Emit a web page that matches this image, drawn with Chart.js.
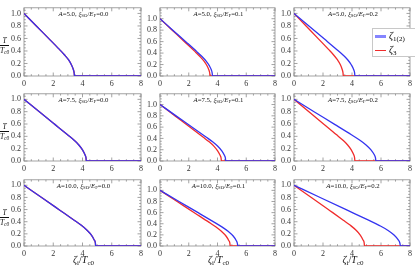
<!DOCTYPE html>
<html>
<head>
<meta charset="utf-8">
<script src="https://cdn.jsdelivr.net/npm/chart.js@4.4.1/dist/chart.umd.min.js"></script>
<style>
  html, body { margin: 0; padding: 0; background: #fff; }
  #stage { position: relative; width: 415px; height: 266px; overflow: hidden; font-family: "Liberation Serif", serif; }
  canvas { position: absolute; }
  .note { position: absolute; font-size: 6.8px; color: #111; white-space: nowrap; transform: translateX(-50%); line-height: 1; }
  .note sub, .lbl sub, .legend sub { font-size: 70%; vertical-align: baseline; position: relative; top: 0.3em; }
  .frac { position: absolute; font-size: 7.5px; font-style: italic; color: #111; text-align: center; line-height: 1; }
  .frac .num { display: block; border-bottom: 0.8px solid #111; padding: 0 1px; }
  .frac .den { display: block; padding-top: 1px; }
  .lbl { position: absolute; font-size: 10px; color: #111; white-space: nowrap; transform: translateX(-50%); line-height: 1; }
  .legend { position: absolute; left: 372px; top: 28px; width: 44px; height: 29px; background: #fff; border: 1px solid #c8c8c8; box-sizing: border-box; font-size: 10px; }
  .legend .row { position: absolute; left: 2px; height: 12px; line-height: 12px; white-space: nowrap; }
  .legend .sw { display: inline-block; width: 11px; vertical-align: middle; margin-right: 3px; }
</style>
</head>
<body>
<div id="stage"></div>
<script>
// ---- data ----
const aValues = ["5.0", "7.5", "10.0"];
const xiValues = ["0.0", "0.1", "0.2"];
const xTicks = [0, 2, 4, 6, 8];
const yTicks = [0, 0.2, 0.4, 0.6, 0.8, 1.0];

// T/Tc0 along each curve (same sample positions along every curve)
const tRatio = [1, 0.795, 0.59, 0.425, 0.34, 0.26, 0.18, 0.10, 0.05, 0, 0];

// zeta_i/Tc0 positions for each curve, per A, for xi_SO/E_F = 0.0, 0.1, 0.2
const blue5 = [
  [0, 0.86, 1.73, 2.42, 2.76, 3.04, 3.24, 3.38, 3.43, 3.45, 8],
  [0, 0.91, 1.83, 2.56, 2.92, 3.21, 3.43, 3.58, 3.63, 3.65, 8],
  [0, 1.05, 2.10, 2.94, 3.36, 3.70, 3.95, 4.12, 4.18, 4.20, 8]
];
const red5 = [
  [0, 0.86, 1.73, 2.42, 2.76, 3.04, 3.24, 3.38, 3.43, 3.45, 8],
  [0, 0.87, 1.74, 2.44, 2.78, 3.06, 3.27, 3.41, 3.46, 3.48, 8],
  [0, 0.85, 1.70, 2.38, 2.72, 2.99, 3.20, 3.33, 3.38, 3.40, 8]
];
const blue75 = [
  [0, 1.07, 2.13, 2.98, 3.41, 3.75, 4.00, 4.17, 4.24, 4.26, 8],
  [0, 1.14, 2.29, 3.20, 3.66, 4.02, 4.30, 4.48, 4.55, 4.57, 8],
  [0, 1.41, 2.83, 3.96, 4.52, 4.97, 5.31, 5.54, 5.62, 5.65, 8]
];
const red75 = [
  [0, 1.07, 2.13, 2.98, 3.41, 3.75, 4.00, 4.17, 4.24, 4.26, 8],
  [0, 1.07, 2.14, 2.99, 3.42, 3.76, 4.01, 4.18, 4.25, 4.27, 8],
  [0, 1.05, 2.10, 2.94, 3.36, 3.70, 3.95, 4.12, 4.18, 4.20, 8]
];
const blue10 = [
  [0, 1.23, 2.45, 3.43, 3.92, 4.31, 4.61, 4.80, 4.88, 4.90, 8],
  [0, 1.35, 2.71, 3.79, 4.33, 4.76, 5.09, 5.30, 5.38, 5.41, 8],
  [0, 1.84, 3.67, 5.14, 5.87, 6.46, 6.90, 7.19, 7.30, 7.34, 8]
];
const red10 = [
  [0, 1.23, 2.45, 3.43, 3.92, 4.31, 4.61, 4.80, 4.88, 4.90, 8],
  [0, 1.22, 2.44, 3.42, 3.90, 4.29, 4.59, 4.78, 4.86, 4.88, 8],
  [0, 1.22, 2.43, 3.40, 3.89, 4.28, 4.57, 4.76, 4.84, 4.86, 8]
];
const blueRows = [blue5, blue75, blue10];
const redRows = [red5, red75, red10];

// ---- layout ----
const colLeft = [24, 160, 294];
const colRight = [143, 277, 412];
const rowTop = [3, 89, 175];
const rowBottom = [76, 161, 246];
const colYMax = [1.09, 1.19, 1.09];
const Y_AXIS_W = 22, X_AXIS_H = 12, PAD = 3;

const BLUE = "#3434f0";
const RED = "#f02c2c";
const FRAME = "#8c8c8c";

Chart.defaults.font.family = "'Liberation Serif', serif";
Chart.defaults.color = "#333";

const framePlugin = {
  id: "frame",
  beforeDatasetsDraw(chart) {
    const { ctx, chartArea: { left, top, right, bottom }, scales: { x, y } } = chart;
    ctx.save();
    ctx.strokeStyle = FRAME;
    ctx.lineWidth = 0.8;
    ctx.strokeRect(left, top, right - left, bottom - top);
    ctx.beginPath();
    for (let i = 0; i <= 16; i++) {
      const px = x.getPixelForValue(i * 0.5);
      const len = i % 4 === 0 ? 3.5 : 1.8;
      ctx.moveTo(px, bottom); ctx.lineTo(px, bottom - len);
      ctx.moveTo(px, top); ctx.lineTo(px, top + len);
    }
    for (let i = 0; i * 0.05 <= y.max + 1e-9; i++) {
      const py = y.getPixelForValue(i * 0.05);
      const len = i % 4 === 0 ? 3.5 : 1.8;
      ctx.moveTo(left, py); ctx.lineTo(left + len, py);
      ctx.moveTo(right, py); ctx.lineTo(right - len, py);
    }
    ctx.stroke();
    ctx.restore();
  }
};

const stage = document.getElementById("stage");

function toPoints(xs) {
  return xs.map((v, i) => ({ x: v, y: tRatio[i] }));
}

for (let r = 0; r < 3; r++) {
  for (let c = 0; c < 3; c++) {
    const w = (colRight[c] - colLeft[c]) + Y_AXIS_W + PAD;
    const h = (rowBottom[r] - rowTop[r]) + PAD + X_AXIS_H;
    const cv = document.createElement("canvas");
    cv.width = w; cv.height = h;
    cv.style.left = (colLeft[c] - Y_AXIS_W) + "px";
    cv.style.top = (rowTop[r] - PAD) + "px";
    cv.style.width = w + "px"; cv.style.height = h + "px";
    stage.appendChild(cv);

    new Chart(cv.getContext("2d"), {
      type: "line",
      data: {
        datasets: [
          { label: "ζ1(2)", data: toPoints(blueRows[r][c]), borderColor: BLUE, borderWidth: 1.3 },
          { label: "ζ3", data: toPoints(redRows[r][c]), borderColor: RED, borderWidth: 1.3 }
        ]
      },
      options: {
        responsive: false,
        animation: false,
        devicePixelRatio: 1,
        layout: { padding: { top: PAD, right: PAD, left: 0, bottom: 0 } },
        elements: {
          point: { radius: 0 },
          line: { cubicInterpolationMode: "monotone", fill: false }
        },
        plugins: { legend: { display: false }, tooltip: { enabled: false } },
        scales: {
          x: {
            type: "linear", min: 0, max: 8,
            grid: { display: false, drawTicks: false }, border: { display: false },
            afterBuildTicks: (axis) => { axis.ticks = xTicks.map(v => ({ value: v })); },
            afterFit: (axis) => { axis.height = X_AXIS_H; },
            ticks: { font: { size: 8 }, padding: 3, maxRotation: 0, autoSkip: false, color: "#333" }
          },
          y: {
            type: "linear", min: 0, max: colYMax[c],
            grid: { display: false, drawTicks: false }, border: { display: false },
            afterBuildTicks: (axis) => { axis.ticks = yTicks.map(v => ({ value: v })); },
            afterFit: (axis) => { axis.width = Y_AXIS_W; },
            ticks: { font: { size: 8 }, padding: 3, autoSkip: false, color: "#333", callback: (v) => Number(v).toFixed(1) }
          }
        }
      },
      plugins: [framePlugin]
    });

    // panel annotation
    const note = document.createElement("div");
    note.className = "note";
    note.style.left = ((colLeft[c] + colRight[c]) / 2) + "px";
    note.style.top = (rowTop[r] + 8) + "px";
    note.innerHTML = "<i>A</i>=" + aValues[r] + ", <i>ξ</i><sub>SO</sub>/<i>E</i><sub>F</sub>=" + xiValues[c];
    stage.appendChild(note);
  }

  // y-axis label fraction
  const frac = document.createElement("div");
  frac.className = "frac";
  frac.style.left = "0px";
  frac.style.top = (rowTop[r] + 34) + "px";
  frac.innerHTML = '<span class="num">T</span><span class="den">T<sub style="font-size:70%;vertical-align:baseline;position:relative;top:0.3em">c0</sub></span>';
  stage.appendChild(frac);
}

// x-axis labels under bottom row
for (let c = 0; c < 3; c++) {
  const lbl = document.createElement("div");
  lbl.className = "lbl";
  lbl.style.left = ((colLeft[c] + colRight[c]) / 2) + "px";
  lbl.style.top = "255px";
  lbl.innerHTML = "<i>ζ</i><sub>i</sub>/<i>T</i><sub>c0</sub>";
  stage.appendChild(lbl);
}

// legend in the top-right panel
const legend = document.createElement("div");
legend.className = "legend";
legend.innerHTML =
  '<div class="row" style="top:1px"><span class="sw" style="height:3px;background:#8585ff"></span><i>ζ</i><sub>1(2)</sub></div>' +
  '<div class="row" style="top:15px"><span class="sw" style="height:1.5px;background:' + RED + '"></span><i>ζ</i><sub>3</sub></div>';
stage.appendChild(legend);
</script>
</body>
</html>
